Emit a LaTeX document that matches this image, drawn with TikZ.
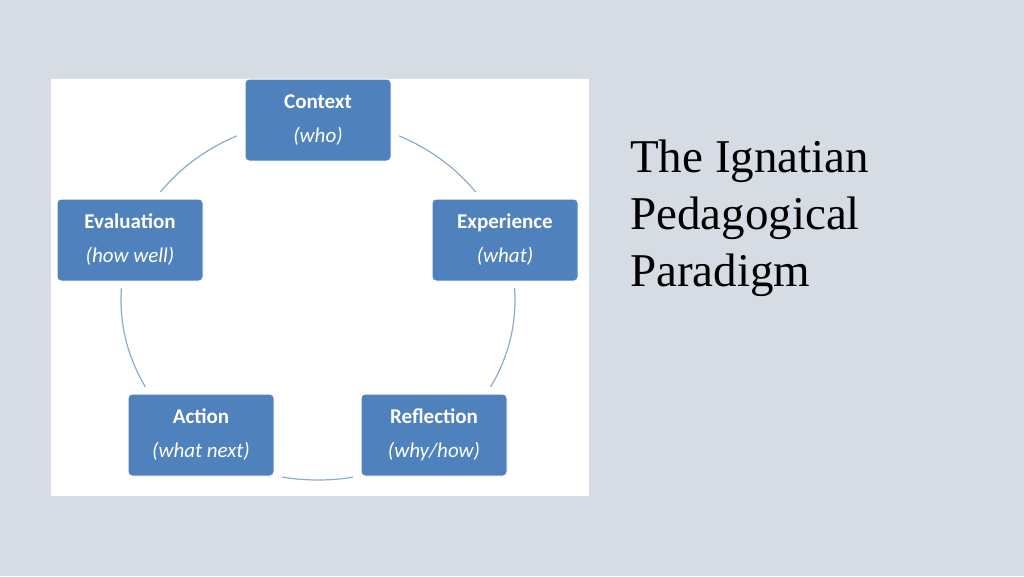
\documentclass[tikz,border=0pt]{standalone}
\usepackage{fontspec}
\setmainfont{Liberation Serif}
\newfontfamily\boxfont{Carlito}
\definecolor{bg}{HTML}{D6DCE3}
\definecolor{boxblue}{HTML}{4F81BD}
\definecolor{ring}{HTML}{8EAAD0}
\begin{document}
\begin{tikzpicture}[x=1pt,y=-1pt,
  stage/.style={fill=boxblue, draw=white, line width=1pt, rounded corners=4pt, minimum width=146pt, minimum height=82pt, text=white, align=center, font=\boxfont\fontsize{21}{34}\selectfont},
  gap/.style={fill=white, rounded corners=6pt, minimum width=162pt, minimum height=96pt}]
\fill[bg] (0,0) rectangle (1024,576);
\useasboundingbox (0,0) rectangle (1024,576);
\fill[white] (51,79) rectangle (589,496);
\begin{scope}
\clip (51,79) rectangle (589,496);
\draw[ring, line width=1.2pt] (318,300) ellipse [x radius=197, y radius=180];
\foreach \p in {(318,120),(505,240),(130,240),(201,435),(434,435)}
  \node[gap] at \p {};
\end{scope}
\node[stage] (ctx) at (318,120) {\textbf{Context}\\\textit{(who)}};
\node[stage] (exp) at (505,240) {\textbf{Experience}\\\textit{(what)}};
\node[stage] (eva) at (130,240) {\textbf{Evaluation}\\\textit{(how well)}};
\node[stage] (act) at (201,435) {\textbf{Action}\\\textit{(what next)}};
\node[stage] (ref) at (434,435) {\textbf{Reflection}\\\textit{(why/how)}};
\node[anchor=north west, align=left, text=black, inner sep=0pt, font=\fontsize{47}{57}\selectfont] (title) at (630,140) {The Ignatian\\Pedagogical\\Paradigm};
\end{tikzpicture}
\end{document}
